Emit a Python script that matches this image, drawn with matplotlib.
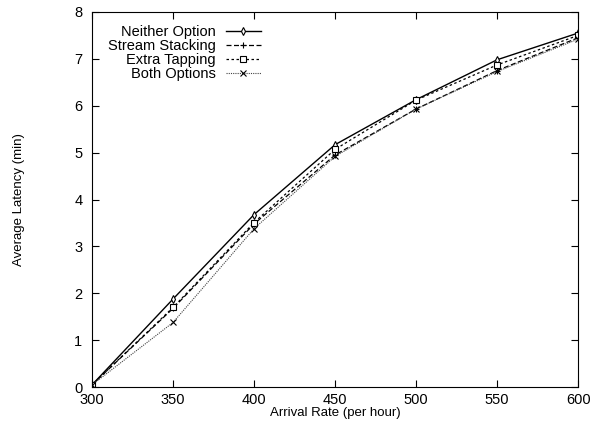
import matplotlib
matplotlib.use("Agg")
import matplotlib.pyplot as plt

rates = [300, 350, 400, 450, 500, 550, 600]
neither = [0.05, 1.88, 3.68, 5.17, 6.13, 6.98, 7.55]
stream = [0.05, 1.68, 3.48, 4.95, 5.93, 6.75, 7.45]
extra = [0.05, 1.70, 3.51, 5.07, 6.12, 6.87, 7.50]
both = [0.05, 1.38, 3.38, 4.92, 5.93, 6.73, 7.42]
labels = ["Neither Option", "Stream Stacking", "Extra Tapping", "Both Options"]

plt.rcParams['font.family'] = ['Liberation Sans', 'DejaVu Sans']
fig = plt.figure(figsize=(5.9, 4.25), dpi=100)
ax = fig.add_axes([0.156, 0.089, 0.824, 0.883])

ax.plot(rates, neither, color='black', lw=1.0, ls='-', marker='d', mfc='white', ms=4, mew=0.8, label=labels[0])
ax.plot(rates, stream, color='black', lw=0.9, ls=(0, (4, 2)), marker='+', ms=5, mew=0.8, label=labels[1])
ax.plot(rates, extra, color='black', lw=0.9, ls=(0, (2, 2)), marker='s', mfc='white', ms=4, mew=0.8, label=labels[2])
ax.plot(rates, both, color='#444444', lw=0.8, ls=(0, (1, 1)), marker='x', mec='black', ms=4, mew=0.8, label=labels[3])

ax.set_xlim(300, 600)
ax.set_ylim(0, 8)
ax.set_xticks(range(300, 601, 50))
ax.set_yticks(range(0, 9))
ax.tick_params(direction='in', top=True, right=True, length=5, labelsize=10.5)
ax.tick_params(axis='x', pad=4)
ax.tick_params(axis='y', pad=7)
ax.set_xlabel("Arrival Rate (per hour)", fontsize=9.5, labelpad=0)
ax.set_ylabel("Average Latency (min)", fontsize=9.5, labelpad=35)

leg = ax.legend(loc='upper left', bbox_to_anchor=(0.005, 1.0), frameon=False, markerfirst=False,
                fontsize=10.5, handlelength=2.4, handletextpad=0.7, labelspacing=0.0, borderaxespad=0.5)
for t in leg.get_texts():
    t.set_ha('right')
leg._legend_box.align = 'right'

fig.savefig("out.png", dpi=100)
